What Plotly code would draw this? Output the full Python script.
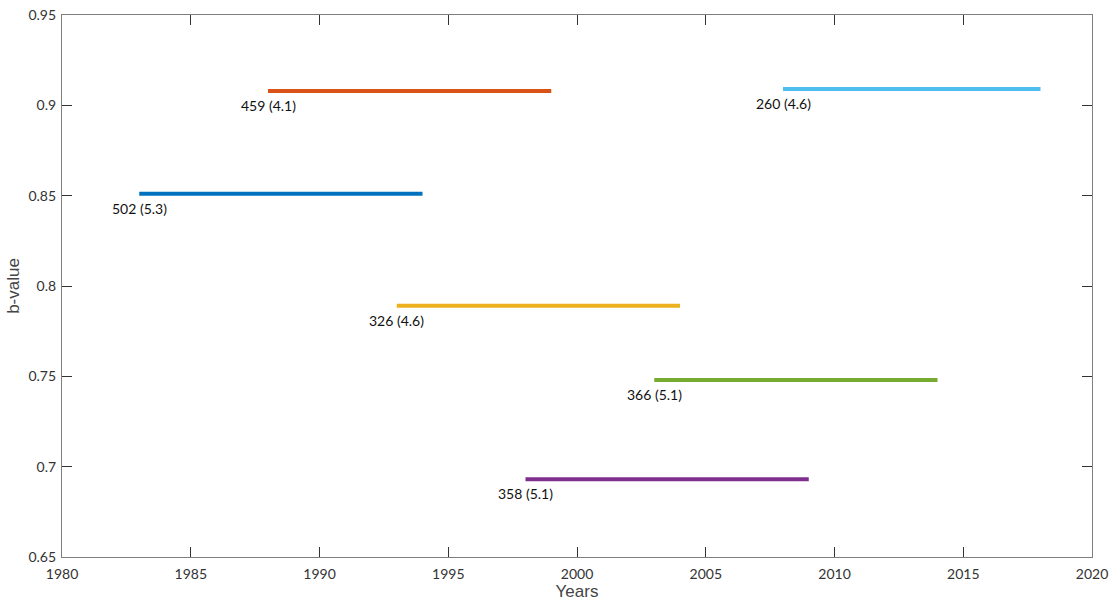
import plotly.graph_objects as go

start_years = [1983, 1988, 1993, 1998, 2003, 2008]
end_years = [1994, 1999, 2004, 2009, 2014, 2018]
b_values = [0.851, 0.908, 0.789, 0.693, 0.748, 0.909]
labels = ["502 (5.3)", "459 (4.1)", "326 (4.6)", "358 (5.1)", "366 (5.1)", "260 (4.6)"]
colors = ["#0072BD", "#D95319", "#EDB120", "#7E2F8E", "#77AC30", "#4DBEEE"]

x_ticks = list(range(1980, 2021, 5))
y_ticks = [0.65, 0.7, 0.75, 0.8, 0.85, 0.9, 0.95]
y_tick_text = ["0.65", "0.7", "0.75", "0.8", "0.85", "0.9", "0.95"]

fig = go.Figure()
for s, e, b, c in zip(start_years, end_years, b_values, colors):
    fig.add_trace(go.Scatter(x=[s, e], y=[b, b], mode="lines",
                             line=dict(color=c, width=4), showlegend=False,
                             hoverinfo="skip"))

for s, b, t in zip(start_years, b_values, labels):
    fig.add_annotation(x=s, y=b, text=t, showarrow=False, xanchor="center",
                       yanchor="top", yshift=-4,
                       font=dict(family="Lato", size=14, color="#111111"))

axis_common = dict(showline=True, linecolor="#7f7f7f", linewidth=1.2, mirror="ticks",
                   ticks="inside", ticklen=10, tickcolor="#333333", tickwidth=1,
                   showgrid=False, zeroline=False, automargin=False,
                   ticklabeloverflow="allow",
                   tickfont=dict(family="Lato", size=14, color="#333333"))

fig.update_xaxes(range=[1980, 2020], tickvals=x_ticks, ticklabelstandoff=4,
                 title=dict(text="Years", font=dict(family="Liberation Sans", size=17, color="#444444"), standoff=4),
                 **axis_common)
fig.update_yaxes(range=[0.65, 0.95], tickvals=y_ticks, ticktext=y_tick_text,
                 ticklabelstandoff=2,
                 title=dict(text="b-value", font=dict(family="Liberation Sans", size=17, color="#444444"), standoff=4),
                 **axis_common)

fig.update_layout(width=1115, height=610, plot_bgcolor="white", paper_bgcolor="white",
                  margin=dict(l=62, r=23, t=15, b=53))

fig.write_html("out.html", config={"displayModeBar": False},
               post_script="document.body.style.margin='0';")
